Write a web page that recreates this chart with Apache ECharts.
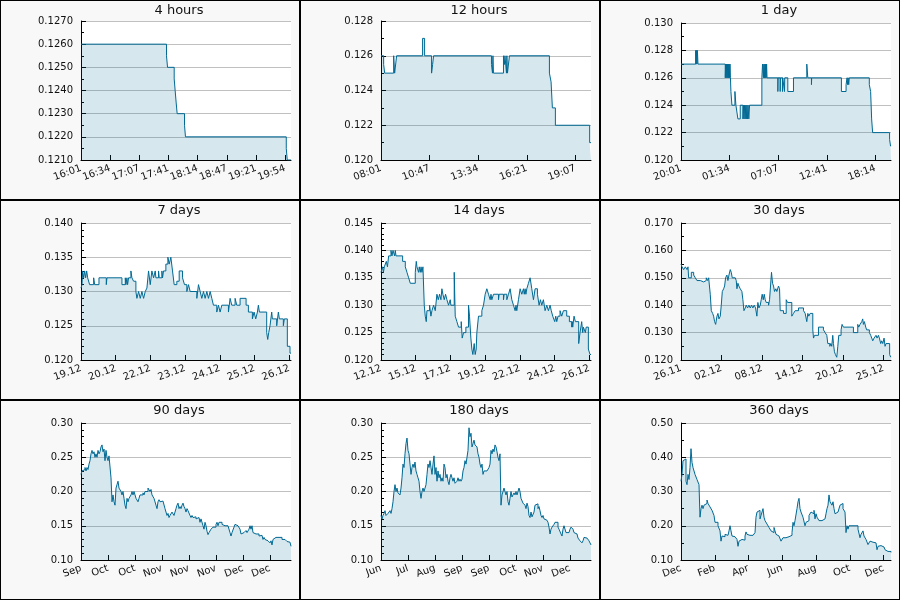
<!DOCTYPE html>
<html><head><meta charset="utf-8">
<script src="https://cdn.jsdelivr.net/npm/echarts@6/dist/echarts.min.js"></script>
<style>html,body{margin:0;padding:0;background:#f8f8f8}#chart{width:900px;height:600px}</style>
</head><body><div id="chart"></div>
<script>
// ---------- titles & tick labels ----------
const panelTitles = ['4 hours','12 hours','1 day','7 days','14 days','30 days','90 days','180 days','360 days'];
const xLabels1 = ['16:01','16:34','17:07','17:41','18:14','18:47','19:21','19:54'];
const xLabels2 = ['08:01','10:47','13:34','16:21','19:07'];
const xLabels3 = ['20:01','01:34','07:07','12:41','18:14'];
const xLabels4 = ['19.12','20.12','22.12','23.12','24.12','25.12','26.12'];
const xLabels5 = ['12.12','15.12','17.12','19.12','22.12','24.12','26.12'];
const xLabels6 = ['26.11','02.12','08.12','14.12','20.12','25.12'];
const xLabels7 = ['Sep','Oct','Oct','Nov','Nov','Nov','Dec','Dec'];
const xLabels8 = ['Jun','Jul','Aug','Sep','Sep','Oct','Nov','Dec'];
const xLabels9 = ['Dec','Feb','Apr','Jun','Aug','Oct','Dec'];

// ---------- series: [time, price] (minutes for panels 1-3, days for 4-6) ----------
const p1Data = [[0,0.1260],[97.7,0.1255],[98.9,0.1250],[106.5,0.1245],[107.6,0.1240],[108.7,0.1235],[109.9,0.1230],[118.3,0.1225],[119.4,0.1220],[234.6,0.1215],[235.7,0.1210],[240,0.1210]];

const p2Data = [[0,0.1260],[9.1,0.1255],[12.6,0.1250],[43.4,0.1260],[46.8,0.1250],[53.6,0.1260],[142.6,0.1270],[149.5,0.1260],[173.4,0.1250],[176.9,0.1255],[180.3,0.1260],[378.8,0.1255],[382.2,0.1250],[383.8,0.1260],[385.6,0.1250],[419.9,0.1260],[423.3,0.1255],[425.0,0.1260],[430.2,0.1250],[431.6,0.1260],[433.6,0.1250],[440.4,0.1260],[577.4,0.1250],[583.1,0.1245],[587.6,0.1230],[597.9,0.1220],[715.4,0.1210],[720,0.1210]];

const p3Data = [[0,0.127],[100.4,0.128],[103.5,0.127],[106.5,0.128],[109.5,0.127],[112.5,0.128],[116.4,0.127],
[303.5,0.126],[306,0.127],[309,0.126],[312,0.127],[315,0.126],[318,0.127],[321,0.126],[324,0.127],[327,0.126],[330,0.127],[333,0.126],[336,0.127],[339,0.126],
[342.3,0.125],[349.2,0.124],[369.7,0.125],[376.5,0.124],[383.4,0.1235],[390.2,0.123],[406.2,0.124],[424.5,0.123],[428,0.124],[432,0.123],[436,0.124],[440,0.123],[444,0.124],[448,0.123],[452,0.124],[456,0.123],[460,0.124],[465,0.123],[470.1,0.124],
[554.5,0.126],[559.1,0.127],[565,0.126],[568,0.127],[572.8,0.126],[575,0.127],[578,0.126],[581,0.127],[584,0.126],[587,0.127],[590,0.126],
[664.1,0.125],[665.5,0.126],[680.1,0.125],[681.5,0.126],[696,0.125],[697.5,0.126],[709.7,0.125],[711,0.126],[732.5,0.125],[771.3,0.126],[862.6,0.127],[869.5,0.126],[894.6,0.1255],[896,0.126],[1100,0.125],[1131.9,0.1255],[1138.8,0.126],[1142,0.1255],[1146,0.126],[1150,0.1255],[1154,0.126],[1291.2,0.1255],[1300.3,0.125],[1307.2,0.123],[1314,0.122],[1430.4,0.1215],[1437.2,0.121],[1440,0.121]];

const p4Data = [[0,0.1305],[0.033,0.131],[0.055,0.133],[0.089,0.132],[0.122,0.133],[0.155,0.132],[0.189,0.133],[0.222,0.132],[0.288,0.131],[0.422,0.132],[0.455,0.131],[0.599,0.132],[0.843,0.131],[0.865,0.132],[1.365,0.131],[1.475,0.132],[1.498,0.131],[1.531,0.132],[1.553,0.131],[1.586,0.132],[1.664,0.133],[1.697,0.132],[1.753,0.1315],[1.830,0.130],[1.864,0.129],[1.919,0.130],[1.975,0.129],[2.030,0.130],[2.086,0.129],[2.141,0.130],[2.197,0.1305],[2.252,0.133],[2.308,0.131],[2.363,0.133],[2.419,0.132],[2.474,0.133],[2.496,0.132],[2.585,0.133],[2.607,0.132],[2.696,0.133],[2.718,0.132],[2.751,0.133],[2.829,0.134],[2.896,0.135],[2.940,0.134],[2.995,0.135],[3.051,0.133],[3.106,0.131],[3.195,0.1315],[3.273,0.133],[3.384,0.132],[3.450,0.131],[3.528,0.130],[3.583,0.131],[3.639,0.130],[3.861,0.129],[3.916,0.131],[3.972,0.130],[4.027,0.129],[4.083,0.130],[4.138,0.129],[4.194,0.130],[4.249,0.129],[4.305,0.130],[4.360,0.129],[4.415,0.128],[4.526,0.127],[4.582,0.128],[4.637,0.127],[4.693,0.128],[4.915,0.127],[4.970,0.129],[5.025,0.128],[5.136,0.129],[5.192,0.128],[5.303,0.129],[5.503,0.128],[5.580,0.127],[5.713,0.126],[5.769,0.127],[5.824,0.126],[5.880,0.127],[5.913,0.128],[5.946,0.127],[6.190,0.124],[6.224,0.123],[6.257,0.124],[6.301,0.125],[6.357,0.127],[6.379,0.126],[6.523,0.125],[6.579,0.127],[6.612,0.126],[6.745,0.125],[6.778,0.126],[6.878,0.122],[6.967,0.121],[7,0.121]];

const p5Data = [[0,0.136],[0.111,0.137],[0.16,0.136],[0.222,0.137],[0.355,0.138],[0.43,0.137],[0.510,0.139],[0.666,0.140],[0.732,0.139],[0.799,0.140],[0.910,0.139],[0.954,0.140],[0.998,0.139],[1.442,0.138],[1.620,0.137],[1.731,0.136],[1.842,0.135],[1.953,0.134],[2.285,0.136],[2.352,0.138],[2.396,0.137],[2.507,0.136],[2.55,0.137],[2.618,0.136],[2.67,0.137],[2.729,0.136],[2.796,0.137],[2.884,0.130],[2.951,0.128],[3.018,0.127],[3.062,0.129],[3.239,0.130],[3.328,0.128],[3.395,0.129],[3.506,0.130],[3.617,0.129],[3.728,0.132],[3.816,0.131],[3.905,0.132],[3.994,0.131],[4.060,0.133],[4.127,0.132],[4.216,0.131],[4.304,0.132],[4.393,0.131],[4.504,0.130],[4.615,0.131],[4.66,0.130],[4.882,0.136],[4.948,0.128],[5.059,0.127],[5.170,0.126],[5.347,0.127],[5.414,0.124],[5.503,0.125],[5.658,0.126],[5.835,0.130],[5.902,0.128],[5.991,0.124],[6.057,0.122],[6.124,0.121],[6.213,0.123],[6.279,0.121],[6.346,0.122],[6.390,0.125],[6.501,0.128],[6.723,0.129],[6.834,0.130],[6.945,0.132],[7.056,0.133],[7.167,0.132],[7.278,0.131],[7.333,0.132],[7.389,0.131],[7.500,0.132],[7.833,0.131],[7.877,0.132],[8.165,0.131],[8.210,0.132],[8.387,0.131],[8.498,0.132],[8.609,0.133],[8.720,0.131],[8.831,0.130],[8.942,0.129],[9.0,0.130],[9.053,0.129],[9.164,0.131],[9.275,0.133],[9.386,0.132],[9.497,0.133],[9.55,0.132],[9.608,0.133],[9.66,0.132],[9.719,0.133],[9.830,0.134],[9.941,0.135],[10.052,0.133],[10.163,0.131],[10.274,0.133],[10.429,0.132],[10.540,0.130],[10.629,0.131],[10.718,0.130],[10.828,0.131],[10.939,0.129],[11.050,0.130],[11.161,0.129],[11.272,0.130],[11.35,0.129],[11.449,0.128],[11.582,0.127],[11.65,0.128],[11.716,0.127],[11.80,0.128],[11.937,0.129],[12.048,0.128],[12.159,0.129],[12.382,0.128],[12.559,0.127],[12.714,0.126],[12.75,0.127],[12.781,0.126],[12.870,0.128],[12.958,0.127],[13.180,0.123],[13.269,0.125],[13.380,0.127],[13.447,0.125],[13.491,0.126],[13.624,0.125],[13.68,0.126],[13.824,0.122],[13.935,0.121],[14,0.121]];

const p6Data = [[0,0.155],[0.14,0.154],[0.38,0.153],[0.62,0.154],[0.86,0.153],[1.00,0.154],[1.09,0.150],[1.47,0.152],[1.81,0.151],[2.04,0.150],[2.28,0.149],[2.76,0.1485],[3.23,0.149],[3.61,0.150],[3.80,0.149],[3.95,0.150],[4.18,0.144],[4.33,0.138],[4.52,0.137],[4.66,0.136],[4.80,0.134],[4.95,0.133],[5.14,0.136],[5.28,0.137],[5.42,0.135],[5.61,0.136],[5.75,0.140],[5.90,0.145],[6.09,0.146],[6.23,0.147],[6.37,0.150],[6.56,0.151],[6.70,0.149],[6.85,0.151],[7.04,0.153],[7.18,0.152],[7.32,0.150],[7.75,0.150],[7.89,0.149],[7.99,0.146],[8.13,0.148],[8.27,0.147],[8.46,0.146],[8.70,0.145],[8.84,0.142],[8.99,0.138],[9.18,0.139],[9.32,0.140],[9.51,0.139],[9.70,0.140],[9.89,0.139],[10.08,0.140],[10.27,0.139],[10.46,0.140],[10.65,0.139],[10.84,0.136],[10.98,0.141],[11.13,0.139],[11.32,0.140],[11.46,0.142],[11.60,0.144],[11.75,0.142],[11.89,0.144],[12.03,0.142],[12.17,0.141],[12.51,0.140],[12.65,0.142],[12.79,0.147],[12.93,0.152],[13.08,0.148],[13.22,0.147],[13.36,0.145],[13.55,0.146],[13.69,0.145],[13.93,0.147],[14.08,0.146],[14.17,0.138],[14.65,0.137],[15.03,0.142],[15.22,0.141],[15.83,0.136],[16.07,0.137],[16.31,0.138],[16.79,0.139],[17.50,0.138],[17.74,0.137],[17.97,0.134],[18.12,0.137],[18.26,0.136],[18.45,0.137],[18.83,0.131],[18.93,0.128],[19.07,0.129],[19.64,0.132],[20.35,0.131],[20.59,0.130],[20.83,0.129],[20.97,0.126],[21.26,0.125],[21.40,0.126],[21.54,0.125],[21.68,0.129],[21.78,0.126],[21.92,0.123],[22.06,0.122],[22.25,0.121],[22.40,0.125],[22.54,0.129],[22.87,0.131],[23.01,0.133],[23.20,0.132],[24.63,0.130],[25.25,0.133],[25.39,0.132],[25.58,0.133],[25.82,0.134],[25.96,0.135],[26.06,0.133],[26.20,0.134],[26.39,0.132],[26.53,0.131],[26.91,0.130],[27.10,0.129],[27.25,0.128],[27.39,0.127],[27.58,0.128],[27.86,0.129],[28.01,0.128],[28.20,0.129],[28.34,0.128],[28.53,0.126],[28.67,0.127],[28.82,0.126],[29.01,0.128],[29.15,0.125],[29.29,0.126],[29.81,0.122],[29.96,0.121],[30,0.121]];

// evenly sampled prices over the whole window (panels 7-9)
const p7Values = [0.225,0.230,0.228,0.232,0.235,0.230,0.235,0.232,0.240,0.245,0.255,0.260,0.255,0.258,0.250,0.255,0.250,0.260,0.255,0.258,0.265,0.268,0.258,0.262,0.245,0.260,0.250,0.245,0.252,0.250,0.220,0.185,0.195,0.185,0.180,0.205,0.210,0.215,0.205,0.205,0.200,0.195,0.200,0.190,0.180,0.175,0.190,0.185,0.190,0.190,0.195,0.200,0.195,0.200,0.195,0.190,0.190,0.185,0.190,0.195,0.195,0.195,0.198,0.195,0.200,0.200,0.200,0.205,0.207,0.200,0.203,0.195,0.195,0.190,0.190,0.180,0.175,0.185,0.188,0.185,0.187,0.186,0.188,0.185,0.175,0.170,0.165,0.168,0.162,0.165,0.163,0.170,0.168,0.165,0.170,0.175,0.180,0.183,0.175,0.178,0.175,0.180,0.183,0.178,0.175,0.170,0.175,0.172,0.170,0.165,0.162,0.165,0.162,0.160,0.163,0.160,0.158,0.162,0.160,0.155,0.160,0.158,0.150,0.145,0.155,0.150,0.142,0.137,0.140,0.140,0.145,0.145,0.148,0.150,0.148,0.152,0.155,0.150,0.155,0.153,0.155,0.152,0.153,0.150,0.150,0.150,0.150,0.150,0.150,0.140,0.135,0.140,0.140,0.148,0.152,0.150,0.150,0.150,0.148,0.145,0.138,0.140,0.140,0.140,0.140,0.143,0.140,0.142,0.145,0.150,0.145,0.150,0.140,0.142,0.138,0.140,0.140,0.138,0.135,0.137,0.136,0.135,0.130,0.133,0.130,0.130,0.128,0.130,0.128,0.125,0.128,0.122,0.130,0.132,0.133,0.132,0.133,0.133,0.133,0.132,0.133,0.130,0.131,0.130,0.128,0.130,0.127,0.128,0.126,0.126,0.120];

const p8Values = [0.165,0.160,0.165,0.168,0.172,0.165,0.163,0.168,0.170,0.172,0.168,0.175,0.185,0.200,0.210,0.200,0.205,0.198,0.200,0.195,0.205,0.220,0.240,0.235,0.255,0.270,0.278,0.260,0.255,0.240,0.225,0.235,0.240,0.235,0.243,0.230,0.225,0.220,0.215,0.200,0.190,0.200,0.205,0.200,0.205,0.210,0.225,0.240,0.235,0.245,0.235,0.225,0.240,0.252,0.225,0.235,0.215,0.230,0.220,0.225,0.215,0.220,0.215,0.240,0.235,0.220,0.225,0.215,0.210,0.220,0.225,0.220,0.215,0.220,0.212,0.210,0.215,0.220,0.215,0.218,0.215,0.218,0.230,0.235,0.245,0.240,0.250,0.260,0.293,0.280,0.285,0.265,0.270,0.275,0.268,0.270,0.265,0.255,0.250,0.240,0.235,0.240,0.225,0.230,0.228,0.230,0.232,0.228,0.235,0.240,0.260,0.255,0.262,0.258,0.268,0.265,0.258,0.250,0.245,0.255,0.180,0.195,0.200,0.205,0.200,0.195,0.200,0.185,0.180,0.190,0.200,0.192,0.195,0.198,0.195,0.200,0.195,0.200,0.205,0.200,0.190,0.188,0.183,0.185,0.180,0.175,0.183,0.178,0.165,0.162,0.170,0.163,0.165,0.170,0.180,0.178,0.182,0.175,0.178,0.172,0.165,0.162,0.165,0.160,0.162,0.158,0.160,0.155,0.148,0.138,0.145,0.148,0.150,0.152,0.155,0.153,0.155,0.148,0.145,0.145,0.138,0.135,0.145,0.150,0.148,0.140,0.142,0.140,0.142,0.145,0.148,0.150,0.145,0.140,0.140,0.138,0.140,0.132,0.130,0.128,0.130,0.125,0.128,0.133,0.133,0.132,0.133,0.130,0.128,0.127,0.122];

const p9Values = [0.330,0.350,0.390,0.385,0.395,0.330,0.320,0.350,0.335,0.370,0.425,0.385,0.370,0.365,0.350,0.355,0.335,0.340,0.320,0.225,0.250,0.260,0.250,0.260,0.255,0.265,0.275,0.265,0.260,0.255,0.250,0.245,0.240,0.230,0.210,0.205,0.210,0.200,0.205,0.185,0.155,0.170,0.172,0.168,0.175,0.170,0.172,0.175,0.185,0.200,0.185,0.170,0.172,0.168,0.172,0.165,0.160,0.140,0.155,0.150,0.160,0.155,0.162,0.158,0.170,0.182,0.175,0.180,0.172,0.175,0.170,0.172,0.168,0.175,0.180,0.225,0.240,0.235,0.245,0.220,0.230,0.240,0.250,0.225,0.215,0.210,0.205,0.200,0.195,0.200,0.185,0.190,0.180,0.195,0.185,0.175,0.180,0.170,0.168,0.165,0.155,0.150,0.165,0.162,0.165,0.168,0.165,0.168,0.170,0.168,0.172,0.180,0.210,0.200,0.215,0.220,0.250,0.270,0.280,0.250,0.240,0.235,0.225,0.220,0.200,0.210,0.205,0.215,0.230,0.235,0.240,0.245,0.235,0.245,0.220,0.235,0.225,0.220,0.215,0.220,0.215,0.218,0.215,0.220,0.225,0.235,0.250,0.260,0.290,0.270,0.275,0.260,0.270,0.250,0.235,0.230,0.240,0.235,0.240,0.260,0.255,0.265,0.250,0.255,0.240,0.180,0.200,0.190,0.200,0.195,0.200,0.195,0.205,0.200,0.195,0.205,0.200,0.190,0.185,0.165,0.175,0.180,0.185,0.170,0.165,0.160,0.155,0.145,0.150,0.155,0.150,0.152,0.148,0.155,0.150,0.145,0.130,0.140,0.145,0.142,0.145,0.140,0.138,0.140,0.130,0.132,0.125,0.130,0.128,0.125,0.122];

// ---------- build ----------
const FONT = 'DejaVu Sans';
const LINE = '#006994';
const FILL = 'rgba(0,105,148,0.16)';
const even = (vals, range) => vals.map((v, i) => [i * range / (vals.length - 1), v]);

const panels = [
  {data: p1Data, xMax: 240,  xStep: 2000/60,      xLabels: xLabels1, yMin: 0.121, yMax: 0.127, yStep: 0.001, dec: 4, minor: 2, top: 21, h: 139},
  {data: p2Data, xMax: 720,  xStep: 10000/60,     xLabels: xLabels2, yMin: 0.120, yMax: 0.128, yStep: 0.002, dec: 3, minor: 2, top: 21, h: 139},
  {data: p3Data, xMax: 1440, xStep: 20000/60,     xLabels: xLabels3, yMin: 0.120, yMax: 0.130, yStep: 0.002, dec: 3, minor: 2, top: 23, h: 137},
  {data: p4Data, xMax: 7,    xStep: 100000/86400, xLabels: xLabels4, yMin: 0.120, yMax: 0.140, yStep: 0.005, dec: 3, minor: 5, top: 23, h: 137},
  {data: p5Data, xMax: 14,   xStep: 200000/86400, xLabels: xLabels5, yMin: 0.120, yMax: 0.145, yStep: 0.005, dec: 3, minor: 5, top: 23, h: 137},
  {data: p6Data, xMax: 30,   xStep: 500000/86400, xLabels: xLabels6, yMin: 0.120, yMax: 0.170, yStep: 0.010, dec: 3, minor: 2, top: 23, h: 137},
  {data: even(p7Values, 90),  xMax: 90,  xStep: 1000000/86400, xLabels: xLabels7, yMin: 0.10, yMax: 0.30, yStep: 0.05, dec: 2, minor: 5, top: 23, h: 137},
  {data: even(p8Values, 180), xMax: 180, xStep: 2000000/86400, xLabels: xLabels8, yMin: 0.10, yMax: 0.30, yStep: 0.05, dec: 2, minor: 5, top: 23, h: 137},
  {data: even(p9Values, 360), xMax: 360, xStep: 5000000/86400, xLabels: xLabels9, yMin: 0.10, yMax: 0.50, yStep: 0.10, dec: 2, minor: 2, top: 23, h: 137}
];

const grid = [], xAxis = [], yAxis = [], series = [], graphic = [];
panels.forEach((p, i) => {
  const px = 300 * (i % 3), py = 200 * Math.floor(i / 3);
  const ticks = p.xLabels.map((_, k) => k * p.xStep);
  grid.push({left: px + 81, top: py + p.top, width: 210, height: p.h, show: true, backgroundColor: '#ffffff', borderWidth: 0});
  xAxis.push({
    type: 'value', gridIndex: i, min: 0, max: p.xMax,
    axisLine: {show: true, lineStyle: {color: '#000', width: 1}},
    axisTick: {show: true, inside: true, length: 5, lineStyle: {color: '#000'}, customValues: ticks},
    axisLabel: {customValues: ticks, formatter: v => p.xLabels[Math.round(v / p.xStep)] || '', rotate: 20,
                fontSize: 10, color: '#111', fontFamily: FONT, margin: 8,
                showMinLabel: true, showMaxLabel: true, hideOverlap: false},
    splitLine: {show: false}
  });
  yAxis.push({
    type: 'value', gridIndex: i, min: p.yMin, max: p.yMax, interval: p.yStep,
    axisLine: {show: true, lineStyle: {color: '#000', width: 1}},
    axisTick: {show: true, inside: true, length: 5, lineStyle: {color: '#000'}},
    minorTick: {show: true, splitNumber: p.minor, length: 3, lineStyle: {color: '#000'}},
    axisLabel: {formatter: v => v.toFixed(p.dec), fontSize: 10, color: '#111', fontFamily: FONT, margin: 8,
                showMinLabel: true, showMaxLabel: true},
    splitLine: {show: true, lineStyle: {color: '#c0c0c0', width: 1}}
  });
  series.push({
    type: 'line', xAxisIndex: i, yAxisIndex: i, data: p.data, step: 'end',
    showSymbol: false, symbol: 'none', silent: true,
    lineStyle: {color: LINE, width: 1}, itemStyle: {color: LINE},
    areaStyle: {color: FILL, opacity: 1, origin: 'start'}
  });
  graphic.push({type: 'text', x: px + 179, y: py + 10.5, z: 100,
    style: {text: panelTitles[i], fontSize: 13, fontFamily: FONT, fill: '#111',
            align: 'center', verticalAlign: 'middle', textAlign: 'center', textVerticalAlign: 'middle'}});
});
// panel frames
graphic.push({type: 'rect', z: 100, shape: {x: 0, y: 0, width: 900, height: 600}, style: {fill: 'none', stroke: '#000', lineWidth: 2}});
[300, 600].forEach(x => graphic.push({type: 'line', z: 100, shape: {x1: x, y1: 0, x2: x, y2: 600}, style: {stroke: '#000', lineWidth: 2}}));
[200, 400].forEach(y => graphic.push({type: 'line', z: 100, shape: {x1: 0, y1: y, x2: 900, y2: y}, style: {stroke: '#000', lineWidth: 2}}));

const chart = echarts.init(document.getElementById('chart'), null, {renderer: 'canvas'});
chart.setOption({
  animation: false,
  backgroundColor: '#f8f8f8',
  textStyle: {fontFamily: FONT},
  grid, xAxis, yAxis, series, graphic
});
</script></body></html>
